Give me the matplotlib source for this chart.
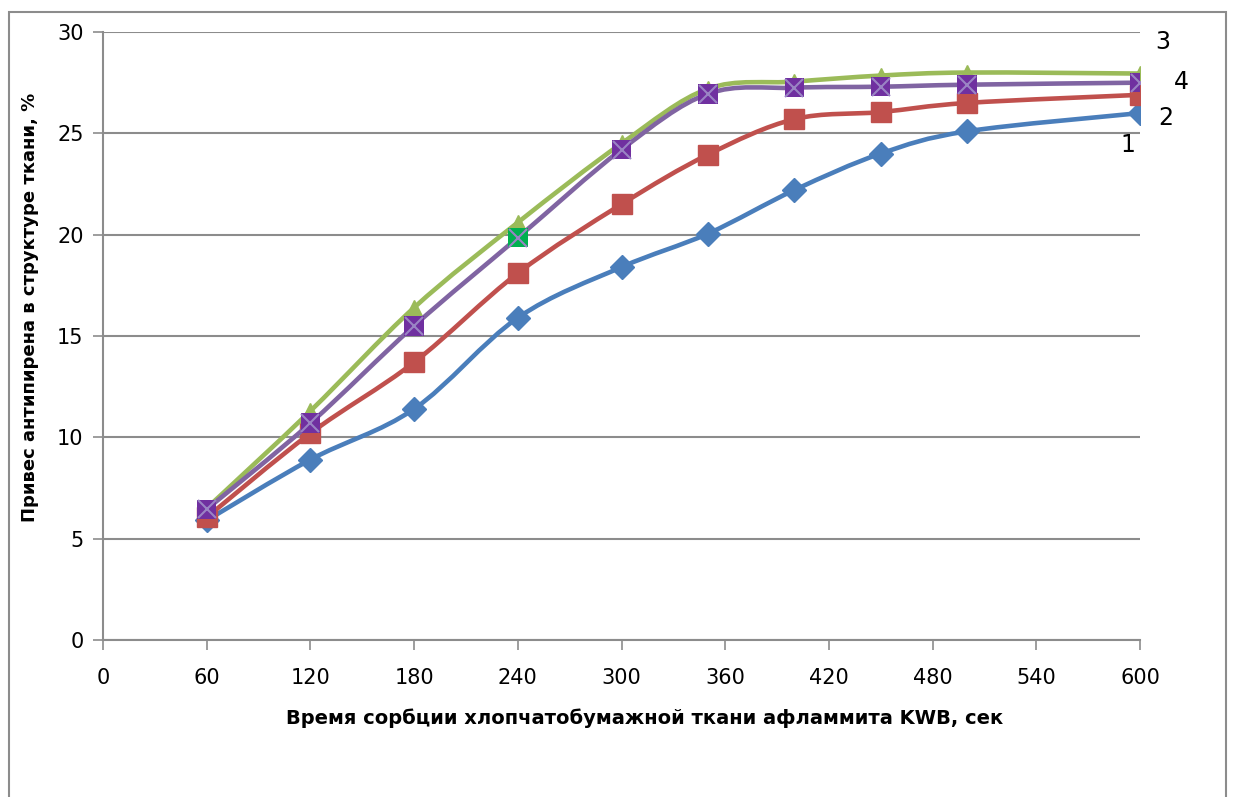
import numpy as np
import matplotlib
matplotlib.use("Agg")
import matplotlib.pyplot as plt
from matplotlib.path import Path
from matplotlib.patches import PathPatch, Rectangle

# ---- data ----
time_s = [60, 120, 180, 240, 300, 350, 400, 450, 500, 600]
series1 = [5.9, 8.9, 11.4, 15.9, 18.4, 20.05, 22.2, 24.0, 25.1, 26.0]
series2 = [6.05, 10.2, 13.7, 18.1, 21.5, 23.95, 25.7, 26.05, 26.5, 26.9]
series3 = [6.5, 11.3, 16.4, 20.6, 24.5, 27.2, 27.55, 27.85, 28.0, 27.95]
series4 = [6.45, 10.7, 15.5, 19.85, 24.2, 26.95, 27.25, 27.3, 27.4, 27.5]
x_ticks = [0, 60, 120, 180, 240, 300, 360, 420, 480, 540, 600]
y_ticks = [0, 5, 10, 15, 20, 25, 30]
curve_labels = ["1", "2", "3", "4"]
x_label = "Время сорбции хлопчатобумажной ткани афламмита KWB, сек"
y_label = "Привес антипирена в структуре ткани, %"

C_BLUE = "#4A7EBB"
C_RED = "#C0504D"
C_GREEN = "#9BBB59"
C_PURPLE = "#8064A2"
C_PURPLE_M = "#7030A0"
C_GRID = "#8C8C8C"

plt.rcParams['font.family'] = ['DejaVu Sans']

fig = plt.figure(figsize=(12.33, 7.97), dpi=100)
# outer chart border
fig.patches.append(Rectangle((9 / 1233, -0.05), (1226 - 9) / 1233, 1 - 12 / 797 + 0.05,
                             transform=fig.transFigure, fill=False,
                             edgecolor="#8C8C8C", linewidth=1.5))

ax = fig.add_axes([103 / 1233, 1 - 640 / 797, (1140 - 103) / 1233, (640 - 32) / 797])
ax.set_xlim(0, 600)
ax.set_ylim(0, 30)


def smooth_path(xs, ys, t=1 / 6):
    pts = np.column_stack([xs, ys]).astype(float)
    n = len(pts)
    verts = [pts[0]]
    codes = [Path.MOVETO]
    for i in range(n - 1):
        p0 = pts[i - 1] if i > 0 else pts[i]
        p1 = pts[i]
        p2 = pts[i + 1]
        p3 = pts[i + 2] if i + 2 < n else pts[i + 1]
        c1 = p1 + (p2 - p0) * t
        c2 = p2 - (p3 - p1) * t
        verts += [c1, c2, p2]
        codes += [Path.CURVE4] * 3
    return Path(verts, codes)


for ys, col, z in [(series1, C_BLUE, 3), (series2, C_RED, 4), (series3, C_GREEN, 5), (series4, C_PURPLE, 6)]:
    ax.add_patch(PathPatch(smooth_path(time_s, ys), facecolor="none", edgecolor=col,
                           linewidth=3.3, zorder=z, capstyle="round", joinstyle="round"))

ax.plot(time_s, series1, linestyle="none", marker="D", ms=12.5, color=C_BLUE, zorder=3.5)
ax.plot(time_s, series2, linestyle="none", marker="s", ms=14, color=C_RED, zorder=4.5)
ax.plot(time_s, series3, linestyle="none", marker="^", ms=11, color=C_GREEN, zorder=5.5)
face4 = [C_PURPLE_M] * len(time_s)
face4[3] = "#00B050"
ax.scatter(time_s, series4, marker="s", s=14 ** 2, c=face4, edgecolors="none", zorder=6.5)
ax.plot(time_s, series4, linestyle="none", marker="x", ms=13, mew=1.5, color="#9A84C4", zorder=6.6)

ax.set_xticks(x_ticks)
ax.set_yticks(y_ticks)
ax.tick_params(axis="both", direction="out", length=7, width=1.2, color=C_GRID, labelsize=15,
               labelcolor="black")
ax.tick_params(axis="x", pad=13)
ax.tick_params(axis="y", pad=7)
ax.yaxis.grid(True, color=C_GRID, linewidth=1.5)
ax.set_axisbelow(True)
for s in ["top", "right"]:
    ax.spines[s].set_visible(False)
for s in ["left", "bottom"]:
    ax.spines[s].set_color(C_GRID)
    ax.spines[s].set_linewidth(1.5)

ax.set_xlabel(x_label, fontsize=14, fontweight="bold")
ax.set_ylabel(y_label, fontsize=13, fontweight="bold")
ax.xaxis.set_label_coords((645 - 103) / 1037, -(718 - 640) / 608)
ax.yaxis.set_label_coords(-(103 - 30) / 1037, (640 - 307) / 608)
ax.xaxis.label.set_va("center")
ax.yaxis.label.set_va("center")

# curve number labels
label_pos = [(1128, 145), (1166, 118), (1163, 42), (1181, 82)]
for txt, (px, py) in zip(curve_labels, label_pos):
    fig.text(px / 1233, 1 - py / 797, txt, fontsize=17, ha="center", va="center")

fig.savefig("out.png", dpi=100)
